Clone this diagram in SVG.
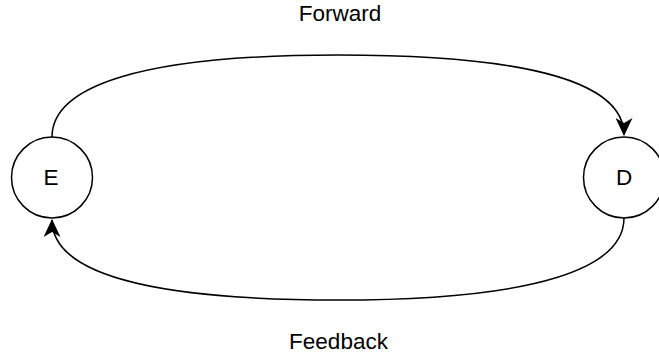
<svg xmlns="http://www.w3.org/2000/svg" width="659" height="358" viewBox="0 0 659 358">
<style>
.node circle{fill:#fff;stroke:#000;stroke-width:1.5}
text{font-family:"Liberation Sans",Arial,sans-serif;font-size:22.5px;fill:#000;text-anchor:middle}
.edge{fill:none;stroke:#000;stroke-width:1.5}
</style>
<defs>
<marker id="arr" viewBox="0 0 18 17" refX="17" refY="8.5" markerWidth="18" markerHeight="17" markerUnits="userSpaceOnUse" orient="auto">
<path d="M0,0 L18,8.5 L0,17 L5,8.5 Z" fill="#000"/>
</marker>
</defs>
<g id="connectors">
<path class="edge" d="M52,137 C52,87 138,55 338,55 C538,55 624,85 624,135" marker-end="url(#arr)"/>
<path class="edge" d="M624,218 C624,268 538,300 338,300 C138,300 52,270 52,220" marker-end="url(#arr)"/>
<text x="340" y="21">Forward</text>
<text x="338.5" y="349">Feedback</text>
</g>
<g id="E" class="node"><circle cx="52" cy="177.5" r="40.5"/><text x="51" y="185">E</text></g>
<g id="D" class="node"><circle cx="624" cy="177.5" r="40.5"/><text x="624" y="185">D</text></g>
</svg>
